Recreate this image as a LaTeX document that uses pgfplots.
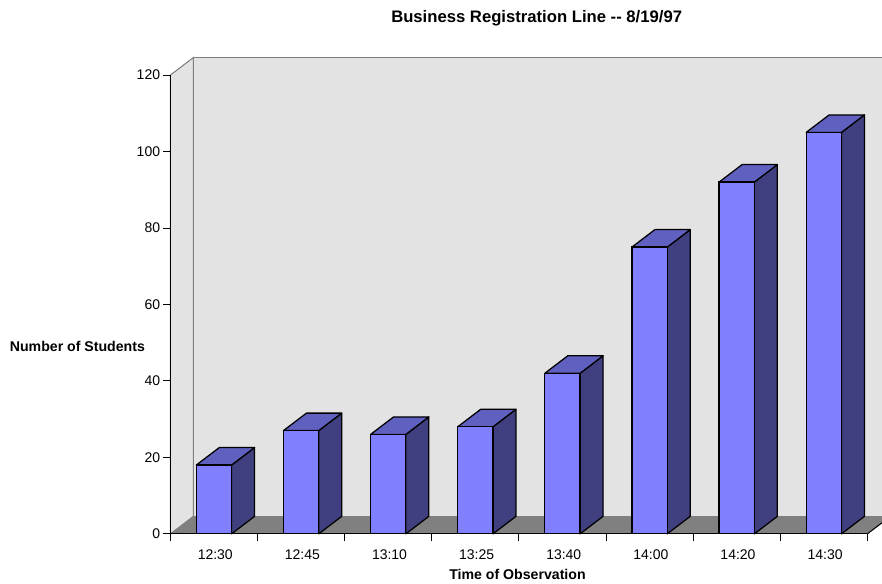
\documentclass[border=0pt]{standalone}
\usepackage{pgfplots}
\pgfplotsset{compat=1.18}
\usepackage{fontspec}
\setmainfont{Liberation Sans}
\definecolor{barfront}{HTML}{8080FF}
\definecolor{bartop}{HTML}{6060C0}
\definecolor{barside}{HTML}{404080}
\definecolor{wall}{HTML}{E3E3E3}
\definecolor{floorgrey}{HTML}{808080}
\pgfmathsetmacro{\dx}{0.264} % depth offset in category units
\pgfmathsetmacro{\dy}{4.58}  % depth offset in value units
\pgfmathsetmacro{\halfw}{0.2025}
% side and top faces of one column
\newcommand{\barfaces}[2]{%
  \pgfmathsetmacro{\xl}{#1-\halfw}%
  \pgfmathsetmacro{\xr}{#1+\halfw}%
  \pgfmathsetmacro{\xlb}{\xl+\dx}%
  \pgfmathsetmacro{\xrb}{\xr+\dx}%
  \pgfmathsetmacro{\yb}{\dy}%
  \pgfmathsetmacro{\yt}{#2+\dy}%
  \addplot[draw=black, fill=barside, line width=0.95pt, line join=round] coordinates {(\xr,0) (\xrb,\yb) (\xrb,\yt) (\xr,#2)} --cycle;
  \addplot[draw=black, fill=bartop, line width=0.95pt, line join=round] coordinates {(\xl,#2) (\xlb,\yt) (\xrb,\yt) (\xr,#2)} --cycle;
}
\begin{document}
\begin{tikzpicture}
\path[use as bounding box] (0pt,0pt) rectangle (661.5pt,438pt);
\clip (0pt,0pt) rectangle (661.5pt,438pt);
\begin{axis}[
  at={(127.8pt,37.6pt)}, anchor=south west,
  scale only axis,
  width=522.75pt, height=344.1pt,
  xmin=0, xmax=8, ymin=0, ymax=120,
  clip=false,
  axis on top,
  axis lines=left,
  axis line style={-, black, line width=0.8pt},
  tick align=outside,
  major tick length=5.2pt,
  every tick/.style={black, line width=0.7pt},
  ytick={0,20,...,120},
  xtick={0,1,...,8},
  xticklabels={},
  extra x ticks={0.515,1.515,2.515,3.515,4.515,5.515,6.515,7.515},
  extra x tick labels={12:30,12:45,13:10,13:25,13:40,14:00,14:20,14:30},
  extra x tick style={major tick length=0pt, tick style={draw=none}, xticklabel style={yshift=-8pt}},
  tick label style={font=\fontsize{10.5}{12}\selectfont, black},
  /pgf/number format/assume math mode=true,
  yticklabel style={xshift=1pt},
  title={\textbf{Business Registration Line -{}- 8/19/97}},
  title style={font=\fontsize{12.5}{14}\selectfont, at={(axis description cs:0.5255,1.1275)}, anchor=center, yshift=-7.5pt},
  xlabel={\textbf{Time of Observation}},
  xlabel style={font=\fontsize{10.6}{12}\selectfont, at={(axis description cs:0.498,-0.0887)}, anchor=center},
  ylabel={\textbf{Number of Students}},
  ylabel style={font=\fontsize{10.6}{12}\selectfont, rotate=-90, at={(axis description cs:-0.1334,0.408)}, anchor=center},
]
% back wall, left wall and floor
\addplot[draw=floorgrey, fill=wall, line width=0.8pt] coordinates {(0.264,4.58) (8.264,4.58) (8.264,124.58) (0.264,124.58)} --cycle;
\addplot[draw=floorgrey, fill=wall, line width=0.8pt] coordinates {(0,0) (0.264,4.58) (0.264,124.58) (0,120)} --cycle;
\addplot[draw=none, fill=floorgrey] coordinates {(0,0) (0.264,4.58) (8.264,4.58) (8,0)} --cycle;
\addplot[draw=black, line width=0.8pt] coordinates {(8,0) (8.264,4.58)};
% columns
\barfaces{0.5}{18}
\barfaces{1.5}{27}
\barfaces{2.5}{26}
\barfaces{3.5}{28}
\barfaces{4.5}{42}
\barfaces{5.5}{75}
\barfaces{6.5}{92}
\barfaces{7.5}{105}
\addplot[ybar, bar width=0.405, draw=black, fill=barfront, line width=0.95pt] coordinates {
  (0.5,18) (1.5,27) (2.5,26) (3.5,28) (4.5,42) (5.5,75) (6.5,92) (7.5,105)};
\end{axis}
\end{tikzpicture}
\end{document}
